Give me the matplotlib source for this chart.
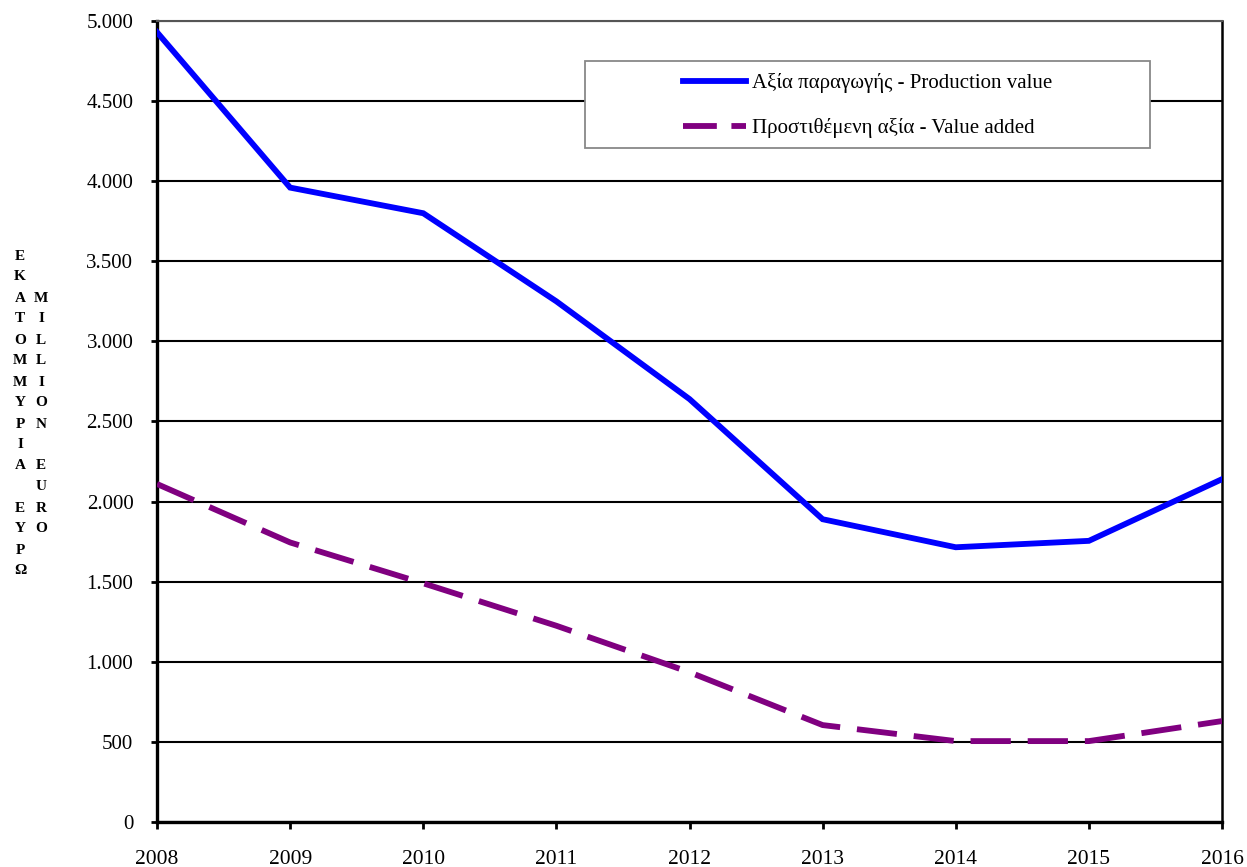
import matplotlib
matplotlib.use("Agg")
import matplotlib.pyplot as plt
from matplotlib.ticker import FuncFormatter, MultipleLocator
from matplotlib.patches import Rectangle

years = [2008, 2009, 2010, 2011, 2012, 2013, 2014, 2015, 2016]
production_value = [4930, 3960, 3800, 3250, 2640, 1890, 1715, 1755, 2140]
value_added = [2110, 1745, 1490, 1225, 935, 605, 505, 505, 630]
label_production = "Αξία παραγωγής - Production value"
label_added = "Προστιθέμενη αξία - Value added"
ylabel_gr = ["Ε", "Κ", "Α", "Τ", "Ο", "Μ", "Μ", "Υ", "Ρ", "Ι", "Α", "", "Ε", "Υ", "Ρ", "Ω"]
ylabel_en = ["", "", "M", "I", "L", "L", "I", "O", "N", "", "E", "U", "R", "O"]

plt.rcParams['font.family'] = ['Liberation Serif', 'DejaVu Serif']

W, H = 1247, 867
fig = plt.figure(figsize=(W / 100, H / 100), dpi=100)
ax = fig.add_axes([157 / W, 1 - 822 / H, (1222 - 157) / W, (822 - 21) / H])

ax.plot(years, production_value, color='#0000FF', lw=4.2, label=label_production,
        solid_joinstyle='miter', zorder=3)
ax.plot(years, value_added, color='#800080', lw=4.2, dashes=(6.9, 2.9), label=label_added,
        zorder=3)

ax.set_xlim(2008, 2016)
ax.set_ylim(0, 5000)
ax.set_xticks(years)
ax.yaxis.set_major_locator(MultipleLocator(500))
ax.yaxis.set_major_formatter(FuncFormatter(lambda v, p: f"{int(v):,}".replace(",", ".")))
ax.yaxis.grid(True, color='black', lw=1.5)
ax.set_axisbelow(True)

for s in ['left', 'bottom']:
    ax.spines[s].set_linewidth(2.4)
ax.spines['right'].set_linewidth(1.8)
ax.spines['top'].set_linewidth(1.5)
ax.spines['top'].set_color('#555555')

ax.tick_params(axis='y', direction='out', length=4, width=2, pad=13, labelsize=15)
ax.tick_params(axis='x', direction='out', length=5, width=2, pad=15, labelsize=15.5)

# legend box
lx0, lx1, ly0, ly1 = 585, 1150, 61, 148
rect = Rectangle((lx0 / W, 1 - ly1 / H), (lx1 - lx0) / W, (ly1 - ly0) / H,
                 transform=fig.transFigure, facecolor='white', edgecolor='#888888',
                 lw=1.3, zorder=5)
fig.patches.append(rect)
leg = fig.legend(loc='center', bbox_to_anchor=((lx0 + lx1) / 2 / W, 1 - (ly0 + ly1 + 2) / 2 / H),
                 frameon=False, fontsize=15, handlelength=3.0, handletextpad=0.3,
                 labelspacing=1.2)
leg.set_zorder(6)
leg.get_lines()[1].set_dashes((5.8, 2.5))

# stacked vertical axis labels
y0 = 256
dy = 21
for i, ch in enumerate(ylabel_gr):
    if ch:
        fig.text(20 / W, 1 - (y0 + i * dy) / H, ch, ha='center', va='center',
                 fontsize=11, fontweight='bold')
for i, ch in enumerate(ylabel_en):
    if ch:
        fig.text(41 / W, 1 - (y0 + i * dy) / H, ch, ha='center', va='center',
                 fontsize=11, fontweight='bold')

fig.savefig('out.png', dpi=100)
